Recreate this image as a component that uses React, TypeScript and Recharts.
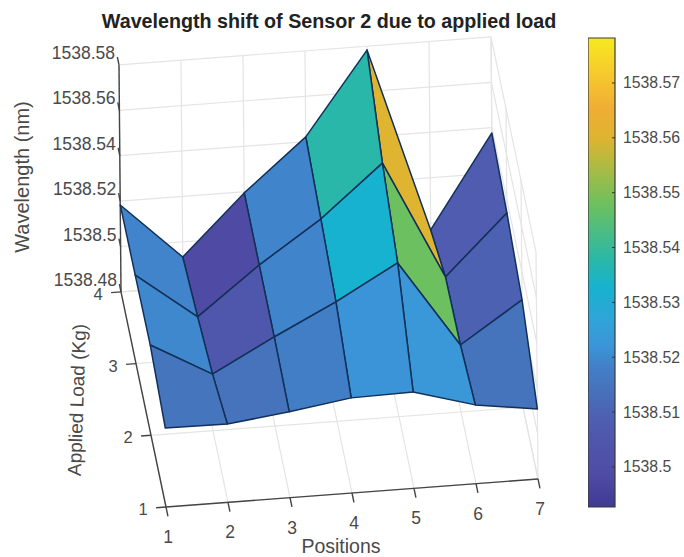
import { Bar, BarChart, Scatter, ScatterChart, XAxis, YAxis } from "recharts";

const positions = [1, 2, 3, 4, 5, 6, 7];
const loads = [1, 2, 3, 4];
const wavelengthTicks = [1538.48, 1538.5, 1538.52, 1538.54, 1538.56, 1538.58];
const colorbarTicks = [1538.5, 1538.51, 1538.52, 1538.53, 1538.54, 1538.55, 1538.56, 1538.57];

// wavelength (nm) per position, one list per applied load
const load1 = [1538.5148, 1538.5145, 1538.5178, 1538.5219, 1538.5224, 1538.5147, 1538.5108];
const load2 = [1538.5198, 1538.5049, 1538.5192, 1538.5326, 1538.5477, 1538.5095, 1538.5273];
const load3 = [1538.519, 1538.4985, 1538.5193, 1538.5375, 1538.5601, 1538.5079, 1538.534];
const load4 = [1538.5183, 1538.4933, 1538.5195, 1538.5421, 1538.5783, 1538.497, 1538.5377];
const surface = [load1, load2, load3, load4];

const colorMin = 1538.4927;
const colorMax = 1538.5782;

const colorStops: [number, string][] = [
  [0, "#3f3a92"],
  [0.07, "#4f4ca6"],
  [0.18, "#4f5cb0"],
  [0.26, "#4575bd"],
  [0.3, "#4280c8"],
  [0.345, "#3a96d8"],
  [0.4, "#2fa4d8"],
  [0.467, "#17b2cf"],
  [0.53, "#2bb8a6"],
  [0.644, "#6cc060"],
  [0.72, "#a8bb45"],
  [0.787, "#dfb430"],
  [0.85, "#f0ad35"],
  [0.92, "#f7c82e"],
  [1, "#f6e91f"],
];

const hex = (s: string, i: number) => parseInt(s.slice(i, i + 2), 16);

function colorFor(value: number) {
  const t = Math.min(1, Math.max(0, (value - colorMin) / (colorMax - colorMin)));
  for (let i = 1; i < colorStops.length; i++) {
    const [t1, c1] = colorStops[i];
    if (t <= t1) {
      const [t0, c0] = colorStops[i - 1];
      const f = (t - t0) / (t1 - t0);
      const mix = (k: number) => Math.round(hex(c0, k) + (hex(c1, k) - hex(c0, k)) * f);
      return `rgb(${mix(1)},${mix(3)},${mix(5)})`;
    }
  }
  return colorStops[colorStops.length - 1][1];
}

// camera: where one unit along each data axis lands on the page
function project(p: number, l: number, z: number) {
  const dz = (z - 1538.48) / 0.02;
  return {
    sx: 166 + 62 * (p - 1) - 15 * (l - 1) - 0.4 * dz,
    sy: 507 - 4.67 * (p - 1) - 71.7 * (l - 1) - 45.4 * dz,
  };
}

const zLow = wavelengthTicks[0];
const zHigh = wavelengthTicks[wavelengthTicks.length - 1];
const pLow = positions[0];
const pHigh = positions[positions.length - 1];
const lLow = loads[0];
const lHigh = loads[loads.length - 1];

type P3 = [number, number, number];
const seg = (a: P3, b: P3) => [project(...a), project(...b)];

const gridLines = [
  ...positions.map((p) => seg([p, lLow, zLow], [p, lHigh, zLow])),
  ...loads.map((l) => seg([pLow, l, zLow], [pHigh, l, zLow])),
  ...positions.map((p) => seg([p, lHigh, zLow], [p, lHigh, zHigh])),
  ...wavelengthTicks.map((z) => seg([pLow, lHigh, z], [pHigh, lHigh, z])),
  ...loads.map((l) => seg([pHigh, l, zLow], [pHigh, l, zHigh])),
  ...wavelengthTicks.map((z) => seg([pHigh, lLow, z], [pHigh, lHigh, z])),
];

const axisLines = [
  seg([pLow, lLow, zLow], [pHigh, lLow, zLow]),
  seg([pLow, lLow, zLow], [pLow, lHigh, zLow]),
  seg([pLow, lHigh, zLow], [pLow, lHigh, zHigh]),
  ...positions.map((p) => seg([p, lLow, zLow], [p, lLow - 0.13, zLow])),
  ...loads.map((l) => seg([pLow, l, zLow], [pLow - 0.16, l, zLow])),
  ...wavelengthTicks.map((z) => seg([pLow, lHigh, z], [pLow, lHigh + 0.11, z])),
];

// painter's order: far load row first, far position first
const faces: { corners: { sx: number; sy: number }[]; value: number }[] = [];
for (let l = loads.length - 2; l >= 0; l--) {
  for (let p = positions.length - 2; p >= 0; p--) {
    faces.push({
      value: surface[l][p],
      corners: [
        project(positions[p], loads[l], surface[l][p]),
        project(positions[p + 1], loads[l], surface[l][p + 1]),
        project(positions[p + 1], loads[l + 1], surface[l + 1][p + 1]),
        project(positions[p], loads[l + 1], surface[l + 1][p]),
      ],
    });
  }
}

const positionLabels = positions.map((p) => ({ ...project(p, lLow, zLow), label: String(p) }));
const loadLabels = loads.map((l) => ({ ...project(pLow, l, zLow), label: String(l) }));
const wavelengthLabels = wavelengthTicks.map((z) => ({ ...project(pLow, lHigh, z), label: String(z) }));

const FONT = '"Liberation Sans", Arial, sans-serif';
const TEXT = "#4a4a4a";

const hidden = () => null;

function tickLabel(dx: number, dy: number, anchor: "middle" | "end", size: number) {
  return (props: any) => (
    <text
      x={props.cx + dx}
      y={props.cy + dy}
      textAnchor={anchor}
      dominantBaseline="central"
      fontFamily={FONT}
      fontSize={size}
      fill={TEXT}
    >
      {props.payload.label}
    </text>
  );
}

function ColorbarTick(props: any) {
  const { x, y, payload } = props;
  return (
    <g>
      <line x1={x - 3} x2={x} y1={y} y2={y} stroke="#333" strokeWidth={1} />
      <text x={x + 8} y={y} dominantBaseline="central" fontFamily={FONT} fontSize={15.8} fill={TEXT}>
        {String(payload.value)}
      </text>
    </g>
  );
}

const colorbarData = [{ name: "colorbar", top: colorMax }];

export default function App() {
  return (
    <div style={{ position: "absolute", left: 0, top: 0, width: 684, height: 557, background: "#fff" }}>
      <ScatterChart width={684} height={557} margin={{ top: 0, right: 0, bottom: 0, left: 0 }}>
        <XAxis type="number" dataKey="sx" domain={[0, 684]} hide />
        <YAxis type="number" dataKey="sy" domain={[0, 557]} reversed hide />
        {gridLines.map((d, i) => (
          <Scatter
            key={`grid${i}`}
            data={d}
            shape={hidden}
            line={{ stroke: "#e4e4e4", strokeWidth: 1.2 }}
            isAnimationActive={false}
          />
        ))}
        {axisLines.map((d, i) => (
          <Scatter
            key={`axis${i}`}
            data={d}
            shape={hidden}
            line={{ stroke: "#444", strokeWidth: 1.4 }}
            isAnimationActive={false}
          />
        ))}
        {faces.map((f, i) => (
          <Scatter
            key={`face${i}`}
            data={f.corners}
            shape={hidden}
            line={(props: any) => (
              <polygon
                points={props.points.map((pt: any) => `${pt.x},${pt.y}`).join(" ")}
                fill={colorFor(f.value)}
                stroke="#123058"
                strokeWidth={1.5}
                strokeLinejoin="round"
              />
            )}
            isAnimationActive={false}
          />
        ))}
        <Scatter data={positionLabels} shape={tickLabel(2, 30, "middle", 17.5)} isAnimationActive={false} />
        <Scatter data={loadLabels} shape={tickLabel(-23, 2, "middle", 16.5)} isAnimationActive={false} />
        <Scatter data={wavelengthLabels} shape={tickLabel(-4, -12, "end", 17.5)} isAnimationActive={false} />
        <text
          x={329}
          y={21}
          textAnchor="middle"
          dominantBaseline="central"
          fontFamily={FONT}
          fontSize={19.7}
          fontWeight="bold"
          fill="#222"
        >
          Wavelength shift of Sensor 2 due to applied load
        </text>
        <text
          x={341}
          y={546}
          textAnchor="middle"
          dominantBaseline="central"
          fontFamily={FONT}
          fontSize={19.5}
          fill={TEXT}
        >
          Positions
        </text>
        <text
          x={22}
          y={177}
          transform="rotate(-90 22 177)"
          textAnchor="middle"
          dominantBaseline="central"
          fontFamily={FONT}
          fontSize={20}
          fill={TEXT}
        >
          Wavelength (nm)
        </text>
        <text
          x={77}
          y={400}
          transform="rotate(-88 77 400)"
          textAnchor="middle"
          dominantBaseline="central"
          fontFamily={FONT}
          fontSize={19}
          fill={TEXT}
        >
          Applied Load (Kg)
        </text>
      </ScatterChart>
      <div style={{ position: "absolute", left: 588, top: 0 }}>
        <BarChart
          width={96}
          height={557}
          data={colorbarData}
          barCategoryGap={0}
          margin={{ top: 38, right: 0, bottom: 50, left: 0 }}
        >
          <defs>
            <linearGradient id="parula" x1="0" y1="1" x2="0" y2="0">
              {colorStops.map(([t, c]) => (
                <stop key={t} offset={t} stopColor={c} />
              ))}
            </linearGradient>
          </defs>
          <XAxis dataKey="name" hide />
          <YAxis
            orientation="right"
            type="number"
            width={69}
            domain={[colorMin, colorMax]}
            ticks={colorbarTicks}
            interval={0}
            axisLine={false}
            tickLine={false}
            tickSize={0}
            tickMargin={0}
            tick={<ColorbarTick />}
          />
          <Bar dataKey="top" fill="url(#parula)" stroke="#3a3a3a" strokeWidth={1.2} isAnimationActive={false} />
        </BarChart>
      </div>
    </div>
  );
}
